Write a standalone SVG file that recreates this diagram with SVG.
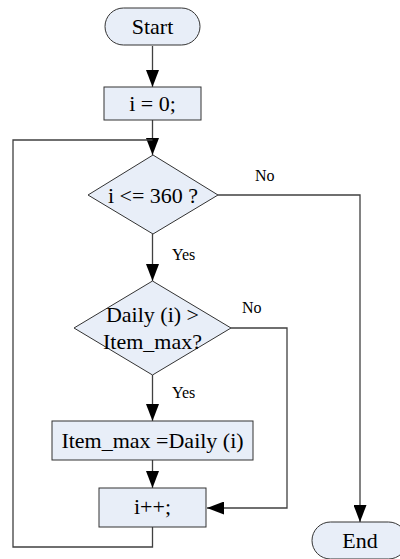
<svg xmlns="http://www.w3.org/2000/svg" width="400" height="559" viewBox="0 0 400 559">
<style>
.node{fill:#e8eef8;stroke:#333;stroke-width:1}
.t{font-family:"Liberation Serif","Times New Roman",serif;font-size:22px;fill:#000;text-anchor:middle}
.l{font-family:"Liberation Serif","Times New Roman",serif;font-size:16px;fill:#000}
.c{fill:none;stroke:#404040;stroke-width:1.3}
</style>
<defs>
<marker id="a" viewBox="0 0 17 13" refX="17" refY="6.5" markerWidth="17" markerHeight="13" orient="auto" markerUnits="userSpaceOnUse">
<path d="M0,0 L17,6.5 L0,13 Z" fill="#000"/>
</marker>
</defs>
<rect width="400" height="559" fill="#fff"/>
<g id="connectors">
<path class="c" d="M152.5,46 V87" marker-end="url(#a)"/>
<path class="c" d="M152.5,120 V155" marker-end="url(#a)"/>
<path class="c" d="M152.5,234 V281" marker-end="url(#a)"/>
<path class="c" d="M152.5,375 V421" marker-end="url(#a)"/>
<path class="c" d="M152.5,460 V488" marker-end="url(#a)"/>
<path class="c" d="M218,195 H360 V522" marker-end="url(#a)"/>
<path class="c" d="M231,328 H287 V508 H207" marker-end="url(#a)"/>
<path class="c" d="M152.5,527 V547 H13 V140 H152.5"/>
<text class="l" x="255" y="181">No</text>
<text class="l" x="172" y="260">Yes</text>
<text class="l" x="242" y="313">No</text>
<text class="l" x="172" y="398">Yes</text>
</g>
<g id="start">
<rect class="node" x="105" y="8" width="95" height="37" rx="18.5"/>
<text class="t" x="152.5" y="34">Start</text>
</g>
<g id="init">
<rect class="node" x="104" y="87" width="97" height="33"/>
<text class="t" x="152.5" y="111">i = 0;</text>
</g>
<g id="cond1">
<polygon class="node" points="153,155 218,195 153,234 88,195"/>
<text class="t" x="153" y="203">i &lt;= 360 ?</text>
</g>
<g id="cond2">
<polygon class="node" points="152.5,281 231,328 152.5,375 74,328"/>
<text class="t" x="152.5" y="322">Daily (i) &gt;</text>
<text class="t" x="152.5" y="349">Item_max?</text>
</g>
<g id="assign">
<rect class="node" x="52" y="421" width="201" height="39"/>
<text class="t" x="152.5" y="448">Item_max =Daily (i)</text>
</g>
<g id="incr">
<rect class="node" x="99" y="488" width="107" height="39"/>
<text class="t" x="152.5" y="514">i++;</text>
</g>
<g id="end">
<rect class="node" x="312" y="522" width="95" height="37" rx="18.5"/>
<text class="t" x="360" y="548">End</text>
</g>
</svg>
